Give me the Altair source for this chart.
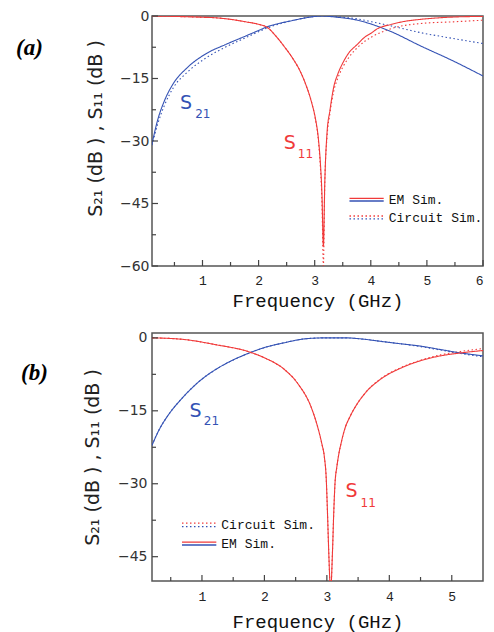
import altair as alt
import pandas as pd

BLUE = "#3452b4"
RED = "#f03a3a"

# ---------------- panel (a) data ----------------
a_s21_em_f = [0.1, 0.2, 0.32, 0.49, 0.72, 1.07, 1.42, 1.77, 2.03, 2.15, 2.3, 2.6, 2.9, 3.13, 3.4, 3.76, 4.02, 4.37, 4.89, 5.47, 6.0]
a_s21_em_db = [-30.7, -25.0, -20.4, -16.0, -12.5, -9.0, -6.8, -4.8, -3.3, -2.6, -2.0, -1.1, -0.3, 0.0, -0.3, -1.0, -2.0, -3.8, -7.2, -10.8, -14.4]
a_s21_ck_f = [0.1, 0.2, 0.32, 0.49, 0.72, 1.07, 1.42, 1.77, 2.03, 2.15, 2.3, 2.6, 2.9, 3.13, 3.4, 3.76, 4.02, 4.37, 4.89, 5.47, 6.0]
a_s21_ck_db = [-31.0, -26.0, -21.5, -17.0, -13.6, -10.0, -7.4, -5.2, -3.6, -2.9, -2.2, -1.1, -0.3, 0.0, -0.2, -0.7, -1.4, -2.4, -4.0, -5.4, -6.6]
a_s11_em_f = [0.1, 0.5, 1.0, 1.2, 1.5, 1.77, 2.0, 2.15, 2.32, 2.45, 2.6, 2.75, 2.84, 2.95, 3.01, 3.07, 3.1, 3.13, 3.155,
              3.18, 3.22, 3.27, 3.34, 3.41, 3.5, 3.59, 3.76, 3.9, 4.02, 4.1, 4.37, 4.6, 4.89, 5.2, 5.47, 6.0]
a_s11_em_db = [0.0, -0.1, -0.3, -0.4, -0.8, -1.4, -2.0, -2.7, -5.0, -7.2, -10.0, -13.5, -16.4, -21.0, -24.4, -30.0, -35.0, -43.0, -55.2,
               -40.0, -28.0, -22.8, -17.0, -14.0, -11.3, -9.2, -6.8, -5.0, -4.0, -3.2, -2.0, -1.3, -0.8, -0.45, -0.25, -0.1]
a_s11_ck_f = [0.1, 0.5, 1.0, 1.2, 1.5, 1.77, 2.0, 2.15, 2.32, 2.45, 2.6, 2.75, 2.84, 2.95, 3.01, 3.07, 3.1, 3.13, 3.155,
              3.18, 3.22, 3.27, 3.34, 3.41, 3.5, 3.59, 3.76, 3.9, 4.02, 4.37, 4.89, 5.47, 6.0]
a_s11_ck_db = [0.0, -0.1, -0.3, -0.4, -0.8, -1.4, -2.0, -2.7, -5.0, -7.2, -10.0, -13.5, -16.4, -21.0, -24.6, -30.5, -36.0, -45.0, -60.0,
               -40.0, -29.0, -23.5, -18.0, -15.0, -12.3, -10.3, -7.6, -6.0, -5.0, -3.0, -1.8, -1.4, -1.0]

# ---------------- panel (b) data ----------------
b_s21_em_f = [0.2, 0.31, 0.47, 0.69, 0.96, 1.22, 1.49, 1.76, 2.0, 2.32, 2.65, 2.97, 3.29, 3.61, 3.85, 4.17, 4.5, 4.82, 5.14, 5.5]
b_s21_em_db = [-22.1, -19.0, -15.7, -12.3, -8.9, -6.5, -4.6, -3.1, -2.0, -1.0, -0.2, 0.0, 0.0, -0.3, -0.7, -1.2, -1.7, -2.4, -3.1, -3.7]
b_s21_ck_f = [0.2, 0.31, 0.47, 0.69, 0.96, 1.22, 1.49, 1.76, 2.0, 2.32, 2.65, 2.97, 3.29, 3.61, 3.85, 4.17, 4.5, 4.82, 5.14, 5.5]
b_s21_ck_db = [-22.1, -19.0, -15.7, -12.3, -8.9, -6.5, -4.6, -3.1, -2.0, -1.0, -0.2, 0.0, 0.0, -0.3, -0.7, -1.2, -1.8, -2.5, -3.2, -3.9]
b_s11_em_f = [0.2, 0.69, 1.22, 1.76, 2.0, 2.32, 2.54, 2.75, 2.85, 2.92, 2.96, 2.99, 3.01, 3.03, 3.06,
              3.09, 3.11, 3.13, 3.16, 3.19, 3.24, 3.29, 3.37, 3.45, 3.61, 3.85, 4.17, 4.5, 4.82, 5.14, 5.5]
b_s11_em_db = [0.0, -0.3, -1.4, -2.9, -4.1, -6.5, -9.5, -14.3, -18.2, -21.8, -24.5, -29.0, -36.0, -44.0, -52.0,
               -44.0, -36.0, -30.0, -26.5, -24.0, -21.0, -18.6, -16.2, -14.3, -11.4, -8.6, -6.3, -4.7, -3.7, -3.1, -2.6]
b_s11_ck_f = [0.2, 0.69, 1.22, 1.76, 2.0, 2.32, 2.54, 2.75, 2.85, 2.92, 2.96, 2.99, 3.01, 3.03, 3.06,
              3.09, 3.11, 3.13, 3.16, 3.19, 3.24, 3.29, 3.37, 3.45, 3.61, 3.85, 4.17, 4.5, 4.82, 5.14, 5.5]
b_s11_ck_db = [0.0, -0.3, -1.4, -2.9, -4.1, -6.5, -9.5, -14.3, -18.2, -21.8, -24.5, -29.0, -36.0, -44.0, -52.0,
               -44.0, -36.0, -30.0, -26.5, -24.0, -21.0, -18.6, -16.2, -14.3, -11.4, -8.5, -6.2, -4.6, -3.5, -2.8, -2.2]

# tick positions
a_x_major = [1, 2, 3, 4, 5, 6]
a_x_minor = [0.5, 1.5, 2.5, 3.5, 4.5, 5.5]
a_y_major = [0, -15, -30, -45, -60]
a_y_minor = [-7.5, -22.5, -37.5, -52.5]
b_x_major = [1, 2, 3, 4, 5]
b_x_minor = [0.5, 1.5, 2.5, 3.5, 4.5]
b_y_major = [0, -15, -30, -45]
b_y_minor = [-7.5, -22.5, -37.5]

# annotations (data coordinates)
a_ann = {"f": [0.6, 0.87, 2.45, 2.7], "db": [-20.9, -23.6, -30.5, -33.2], "t": ["S", "21", "S", "11"],
         "p": ["S21", "S21", "S11", "S11"], "big": [True, False, True, False]}
b_ann = {"f": [0.8, 1.03, 3.3, 3.54], "db": [-15.1, -17.1, -31.4, -34.0], "t": ["S", "21", "S", "11"],
         "p": ["S21", "S21", "S11", "S11"], "big": [True, False, True, False]}

# legends (data coordinates)
a_leg_lines = {"x1": [3.62, 3.62, 3.62, 3.62], "x2": [4.23, 4.23, 4.23, 4.23], "db": [-43.75, -44.4, -48.0, -48.7],
               "p": ["S11", "S21", "S11", "S21"], "k": ["EM", "EM", "Circuit", "Circuit"]}
a_leg_text = {"f": [4.32, 4.32], "db": [-44.1, -48.4], "t": ["EM Sim.", "Circuit Sim."]}
b_leg_lines = {"x1": [0.68, 0.68, 0.68, 0.68], "x2": [1.23, 1.23, 1.23, 1.23], "db": [-38.1, -38.8, -42.0, -42.6],
               "p": ["S11", "S21", "S11", "S21"], "k": ["Circuit", "Circuit", "EM", "EM"]}
b_leg_text = {"f": [1.31, 1.31], "db": [-38.5, -42.3], "t": ["Circuit Sim.", "EM Sim."]}

Y_TITLE = "S₂₁  (dB ) , S₁₁  (dB )"

COLOR = alt.Color("p:N", scale=alt.Scale(domain=["S21", "S11"], range=[BLUE, RED]), legend=None)
DASH = alt.StrokeDash("k:N", scale=alt.Scale(domain=["EM", "Circuit"], range=[[1, 0], [1.5, 2.5]]), legend=None)


def series_df(items):
    rows = []
    for sid, (f, db, p, k) in enumerate(items):
        for fi, di in zip(f, db):
            rows.append({"f": fi, "db": di, "p": p, "k": k, "id": sid})
    return pd.DataFrame(rows)


def panel(items, xdom, ydom, xmaj, xmin, ymaj, ymin, W, H, ann, legl, legt, tag, tag_x, tag_y,
          lab_pad_x, title_pad_x, lab_pad_y, title_pad_y, title_y):
    xs = alt.Scale(domain=xdom, nice=False, zero=False)
    ys = alt.Scale(domain=ydom, nice=False, zero=False)
    xaxis = alt.Axis(values=xmaj, title="Frequency (GHz)", ticks=False, domain=False, grid=False, format="d",
                     labelFont="Liberation Mono", labelFontSize=13, labelColor="#222", labelPadding=lab_pad_x,
                     titleFont="Liberation Mono", titleFontSize=19, titleFontWeight="normal", titleColor="#111",
                     titlePadding=title_pad_x)
    yaxis = alt.Axis(values=ymaj, title=Y_TITLE, ticks=False, domain=False, grid=False,
                     labelFont="DejaVu Sans", labelFontSize=14, labelColor="#333", labelPadding=lab_pad_y,
                     titleFont="DejaVu Sans", titleFontSize=19, titleFontWeight="normal", titleColor="#222",
                     titlePadding=title_pad_y, titleY=title_y)
    df = series_df(items)
    lines = alt.Chart(df).mark_line(strokeWidth=1.1, clip=True, interpolate="monotone").encode(
        x=alt.X("f:Q", scale=xs, axis=xaxis),
        y=alt.Y("db:Q", scale=ys, axis=yaxis),
        color=COLOR, strokeDash=DASH, detail="id:N", order="f:Q",
    )
    tick_c = "#444"
    xt_maj = alt.Chart(pd.DataFrame({"f": xmaj})).mark_rule(color=tick_c, strokeWidth=1.2).encode(
        x=alt.X("f:Q", scale=xs), y=alt.value(H), y2=alt.value(H - 6))
    xt_min = alt.Chart(pd.DataFrame({"f": xmin})).mark_rule(color=tick_c, strokeWidth=1.2).encode(
        x=alt.X("f:Q", scale=xs), y=alt.value(H), y2=alt.value(H - 4))
    yt_maj = alt.Chart(pd.DataFrame({"db": ymaj})).mark_rule(color=tick_c, strokeWidth=1.2).encode(
        y=alt.Y("db:Q", scale=ys), x=alt.value(0), x2=alt.value(6))
    yt_min = alt.Chart(pd.DataFrame({"db": ymin})).mark_rule(color=tick_c, strokeWidth=1.2).encode(
        y=alt.Y("db:Q", scale=ys), x=alt.value(0), x2=alt.value(4))
    adf = pd.DataFrame(ann)
    big = alt.Chart(adf[adf["big"]]).mark_text(font="DejaVu Sans", fontSize=19, align="left", baseline="middle").encode(
        x=alt.X("f:Q", scale=xs), y=alt.Y("db:Q", scale=ys), text="t:N", color=COLOR)
    small = alt.Chart(adf[~adf["big"]]).mark_text(font="DejaVu Sans", fontSize=12, align="left", baseline="middle").encode(
        x=alt.X("f:Q", scale=xs), y=alt.Y("db:Q", scale=ys), text="t:N", color=COLOR)
    leg = alt.Chart(pd.DataFrame(legl)).mark_rule(strokeWidth=1.3).encode(
        x=alt.X("x1:Q", scale=xs), x2="x2:Q", y=alt.Y("db:Q", scale=ys), color=COLOR, strokeDash=DASH)
    legtx = alt.Chart(pd.DataFrame(legt)).mark_text(font="Liberation Mono", fontSize=13, align="left",
                                                    baseline="middle", color="#111").encode(
        x=alt.X("f:Q", scale=xs), y=alt.Y("db:Q", scale=ys), text="t:N")
    tagc = alt.Chart(pd.DataFrame({"t": [tag]})).mark_text(font="Liberation Serif", fontSize=23, fontStyle="italic",
                                                          fontWeight="bold", align="left", baseline="middle",
                                                          color="#000").encode(
        x=alt.value(tag_x), y=alt.value(tag_y), text="t:N")
    return alt.layer(lines, xt_maj, xt_min, yt_maj, yt_min, big, small, leg, legtx, tagc).properties(
        width=W, height=H)


pa = panel([(a_s11_ck_f, a_s11_ck_db, "S11", "Circuit"), (a_s21_ck_f, a_s21_ck_db, "S21", "Circuit"),
            (a_s21_em_f, a_s21_em_db, "S21", "EM"), (a_s11_em_f, a_s11_em_db, "S11", "EM")],
           [0.1, 6.0], [-60, 0], a_x_major, a_x_minor, a_y_major, a_y_minor, 331, 250,
           a_ann, a_leg_lines, a_leg_text, "(a)", -136, 32, 8, 4, 3, 14, 112)

pb = panel([(b_s11_ck_f, b_s11_ck_db, "S11", "Circuit"), (b_s21_ck_f, b_s21_ck_db, "S21", "Circuit"),
            (b_s21_em_f, b_s21_em_db, "S21", "EM"), (b_s11_em_f, b_s11_em_db, "S11", "EM")],
           [0.2, 5.5], [-50, 1], b_x_major, b_x_minor, b_y_major, b_y_minor, 331, 248,
           b_ann, b_leg_lines, b_leg_text, "(b)", -131, 40, 9, 9, 5, 15, 124)

chart = alt.concat(pa, pb, columns=1, spacing=19, align="none").properties(
    padding={"left": 7, "top": 0, "right": 0, "bottom": 0}
).configure_view(stroke="#555", strokeWidth=1.5)

chart.save("out.html", embed_options={"renderer": "svg", "actions": False})
